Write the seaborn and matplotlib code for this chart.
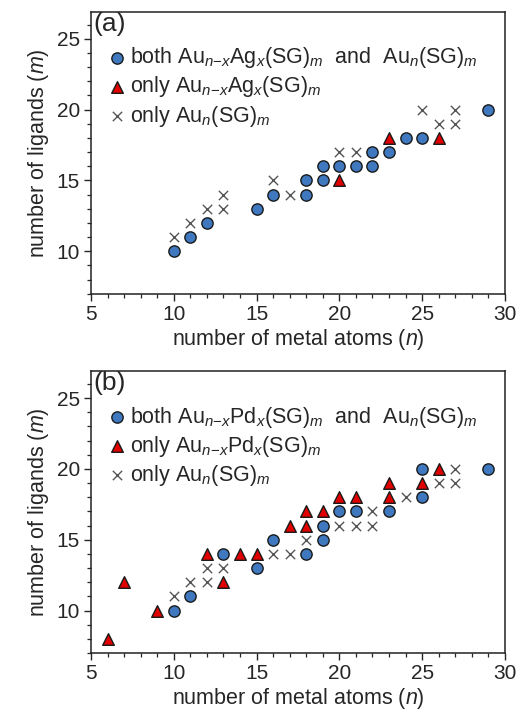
import matplotlib
matplotlib.use("Agg")
import matplotlib.pyplot as plt
from matplotlib.ticker import MultipleLocator
import numpy as np
import pandas as pd
import seaborn as sns

# panel (a): Au-Ag
a_both_n = [10, 11, 12, 15, 16, 18, 18, 19, 19, 20, 21, 22, 22, 23, 24, 25, 29]
a_both_m = [10, 11, 12, 13, 14, 14, 15, 15, 16, 16, 16, 16, 17, 17, 18, 18, 20]
a_alloy_n = [20, 23, 26]
a_alloy_m = [15, 18, 18]
a_au_n = [10, 11, 12, 13, 13, 16, 17, 20, 21, 25, 26, 27, 27]
a_au_m = [11, 12, 13, 13, 14, 15, 14, 17, 17, 20, 19, 19, 20]

# panel (b): Au-Pd
b_both_n = [10, 11, 13, 15, 16, 18, 19, 19, 20, 21, 23, 25, 25, 29]
b_both_m = [10, 11, 14, 13, 15, 14, 15, 16, 17, 17, 17, 18, 20, 20]
b_alloy_n = [6, 7, 9, 12, 13, 14, 15, 17, 18, 18, 19, 20, 21, 23, 23, 25, 26]
b_alloy_m = [8, 12, 10, 14, 12, 14, 14, 16, 16, 17, 17, 18, 18, 18, 19, 19, 20]
b_au_n = [10, 11, 12, 12, 13, 16, 17, 18, 20, 21, 22, 22, 24, 26, 27, 27]
b_au_m = [11, 12, 12, 13, 13, 14, 14, 15, 16, 16, 16, 17, 18, 19, 19, 20]

sns.set_style("ticks")
plt.rcParams['font.family'] = ['Liberation Sans', 'DejaVu Sans']
plt.rcParams['mathtext.fontset'] = 'custom'
plt.rcParams['mathtext.rm'] = 'Liberation Sans'
plt.rcParams['mathtext.it'] = 'Liberation Sans:italic'
plt.rcParams['mathtext.default'] = 'it'

BLUE = "#3f78bf"
RED = "#e00000"
GRAY = "#555555"


def make_frame(both, alloy, au):
    rows = []
    for kind, (ns, ms) in zip(["both", "alloy", "au"], [both, alloy, au]):
        rows.append(pd.DataFrame({"n": ns, "m": ms, "kind": kind}))
    return pd.concat(rows, ignore_index=True)


def draw(ax, df, metal, tag):
    sns.scatterplot(data=df[df.kind == "both"], x="n", y="m", ax=ax,
                    marker="o", s=66, color=BLUE, edgecolor="#1a1a1a",
                    linewidth=1.0, zorder=3,
                    label=r"$\mathrm{both\ Au}_{n\mathrm{-}x}\mathrm{" + metal +
                          r"}_{x}\mathrm{(SG)}_{m}\mathrm{\ \ and\ \ Au}_{n}\mathrm{(SG)}_{m}$")
    sns.scatterplot(data=df[df.kind == "alloy"], x="n", y="m", ax=ax,
                    marker="^", s=70, color=RED, edgecolor="#1a1a1a",
                    linewidth=1.0, zorder=3,
                    label=r"$\mathrm{only\ Au}_{n\mathrm{-}x}\mathrm{" + metal +
                          r"}_{x}\mathrm{(SG)}_{m}$")
    sns.scatterplot(data=df[df.kind == "au"], x="n", y="m", ax=ax,
                    marker="x", s=45, color=GRAY, linewidth=1.0, zorder=3,
                    label=r"$\mathrm{only\ Au}_{n}\mathrm{(SG)}_{m}$")

    ax.set_xlim(5, 30)
    ax.set_ylim(7, 26.9)
    ax.xaxis.set_major_locator(MultipleLocator(5))
    ax.xaxis.set_minor_locator(MultipleLocator(1))
    ax.yaxis.set_major_locator(MultipleLocator(5))
    ax.yaxis.set_minor_locator(MultipleLocator(1))
    ax.tick_params(which="major", length=5, width=1.0, labelsize=15, pad=3)
    ax.tick_params(which="minor", length=3, width=0.9)
    for sp in ax.spines.values():
        sp.set_linewidth(1.1)
        sp.set_color("#222222")
    ax.set_xlabel(r"number of metal atoms ($n$)", fontsize=15.5, labelpad=2)
    ax.set_ylabel(r"number of ligands ($m$)", fontsize=15.5, labelpad=4)
    ax.text(0.005, 1.0, tag, transform=ax.transAxes, fontsize=19,
            ha="left", va="top")
    ax.legend(loc="upper left", bbox_to_anchor=(0.0, 0.935), frameon=False,
              fontsize=15.5, handletextpad=0.1, handlelength=1.0,
              labelspacing=0.2, borderaxespad=0.3, markerscale=1.0)


fig = plt.figure(figsize=(5.32, 7.13), dpi=100)
ax_a = fig.add_axes([0.171, 0.588, 0.778, 0.3955])
ax_b = fig.add_axes([0.171, 0.084, 0.778, 0.3955])

draw(ax_a, make_frame((a_both_n, a_both_m), (a_alloy_n, a_alloy_m),
                      (a_au_n, a_au_m)), "Ag", "(a)")
draw(ax_b, make_frame((b_both_n, b_both_m), (b_alloy_n, b_alloy_m),
                      (b_au_n, b_au_m)), "Pd", "(b)")

fig.savefig("out.png", dpi=100)
